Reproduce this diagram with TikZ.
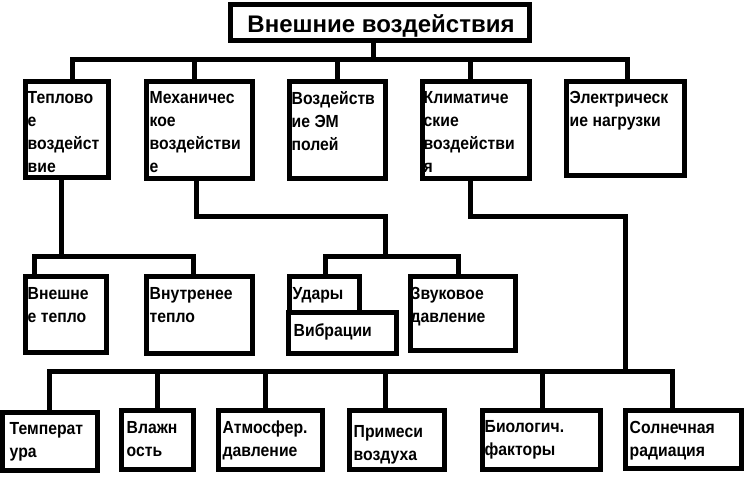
\documentclass[tikz,border=0pt]{standalone}
\usepackage{fontspec}
\setmainfont{Liberation Sans}
\newfontfamily\boxfont{Liberation Sans}[FakeStretch=0.9]
\usetikzlibrary{positioning}

\tikzset{
  box/.style={draw, line width=5pt, anchor=north west, inner sep=0pt, outer sep=0pt},
  boxtext/.style={align=left, inner sep=0pt, font=\boxfont\bfseries\fontsize{17.5}{23}\selectfont},
  wire/.style={line width=5pt, line cap=rect}
}

\begin{document}
\begin{tikzpicture}[x=1pt, y=-1pt]
\useasboundingbox (0,0) rectangle (750,478);

%*** Title ***
\node[box, minimum width=299pt, minimum height=36pt] (title) at (230.5,4.5) {};
\node[anchor=base, inner sep=0pt, font=\bfseries\fontsize{24}{28}\selectfont] (title-t) at (381,33) {Внешние воздействия};

%*** First row ***
\node[box, minimum width=83pt, minimum height=96pt] (tep) at (25.5,81.5) {};
\node[box, minimum width=106pt, minimum height=97pt] (mech) at (146.5,81.5) {};
\node[box, minimum width=96pt, minimum height=97pt] (em) at (289.5,81.5) {};
\node[box, minimum width=107pt, minimum height=97pt] (klim) at (422.5,81.5) {};
\node[box, minimum width=118pt, minimum height=94pt] (elec) at (566.5,81.5) {};

\node[boxtext, below right=10pt and 2pt of tep.north west] (tep-t) {Теплово\\е\\воздейст\\вие};
\node[boxtext, below right=10pt and 3pt of mech.north west] (mech-t) {Механичес\\кое\\воздействи\\е};
\node[boxtext, below right=10pt and 2pt of em.north west] (em-t) {Воздейств\\ие ЭМ\\полей};
\node[boxtext, below right=10pt and 1pt of klim.north west] (klim-t) {Климатиче\\ские\\воздействи\\я};
\node[boxtext, below right=10pt and 3pt of elec.north west] (elec-t) {Электрическ\\ие нагрузки};

%*** Second row ***
\node[box, minimum width=81pt, minimum height=76pt] (vnesh) at (25.5,276.5) {};
\node[box, minimum width=106pt, minimum height=77pt] (vnutr) at (146.5,276.5) {};
\node[box, minimum width=70pt, minimum height=36.5pt] (udar) at (289.5,276.5) {};
\node[box, minimum width=108pt, minimum height=40.5pt] (vibr) at (288.5,313) {};
\node[box, minimum width=105pt, minimum height=74pt] (zvuk) at (410.5,276.5) {};

\node[boxtext, below right=10.8pt and 2pt of vnesh.north west] (vnesh-t) {Внешне\\е тепло};
\node[boxtext, below right=10.8pt and 3pt of vnutr.north west] (vnutr-t) {Внутренее\\тепло};
\node[boxtext, below right=10.8pt and 3pt of udar.north west] (udar-t) {Удары};
\node[boxtext, below right=10.8pt and 5pt of vibr.north west] (vibr-t) {Вибрации};
\node[boxtext, below right=10.8pt and 0pt of zvuk.north west] (zvuk-t) {Звуковое\\давление};

%*** Third row ***
\node[box, minimum width=95pt, minimum height=58pt] (temp) at (2.5,412.5) {};
\node[box, minimum width=72pt, minimum height=59pt] (vlazh) at (121.5,410.5) {};
\node[box, minimum width=104pt, minimum height=59pt] (atm) at (218.5,410.5) {};
\node[box, minimum width=95pt, minimum height=59pt] (prim) at (349.5,410.5) {};
\node[box, minimum width=118pt, minimum height=59pt] (bio) at (482.5,410.5) {};
\node[box, minimum width=116pt, minimum height=58pt] (soln) at (625.5,410.5) {};

\node[boxtext, below right=10pt and 7pt of temp.north west] (temp-t) {Температ\\ура};
\node[boxtext, below right=10.3pt and 5pt of vlazh.north west] (vlazh-t) {Влажн\\ость};
\node[boxtext, below right=10.3pt and 4pt of atm.north west] (atm-t) {Атмосфер.\\давление};
\node[boxtext, below right=14.3pt and 4pt of prim.north west] (prim-t) {Примеси\\воздуха};
\node[boxtext, below right=9.8pt and 2pt of bio.north west] (bio-t) {Биологич.\\факторы};
\node[boxtext, below right=10.3pt and 4pt of soln.north west] (soln-t) {Солнечная\\радиация};

%Top bar
\coordinate (top-bar-c) at (373,60);
\coordinate (top-bar-w) at (72,60);
\coordinate (top-bar-e) at (627,60);
\draw[wire] (top-bar-c |- title.south) -- (top-bar-c);
\draw[wire] (top-bar-w) -- (top-bar-e);
\foreach \x/\n in {72/tep,194/mech,337/em,470/klim,627/elec}
  {\coordinate (j) at (\x,60);
   \draw[wire] (j) -- (j |- \n.north);}

%Thermal branch
\coordinate (tep-bar-c) at (61,257);
\coordinate (tep-bar-w) at (34,257);
\coordinate (tep-bar-e) at (193,257);
\draw[wire] (tep-bar-c |- tep.south) -- (tep-bar-c);
\draw[wire] (tep-bar-w) -- (tep-bar-e);
\draw[wire] (tep-bar-w) -- (tep-bar-w |- vnesh.north);
\draw[wire] (tep-bar-e) -- (tep-bar-e |- vnutr.north);

%Mechanical branch
\coordinate (mech-bend1) at (196,217);
\coordinate (mech-bend2) at (385,217);
\coordinate (mech-bar-c) at (385,257);
\coordinate (mech-bar-w) at (325,257);
\coordinate (mech-bar-e) at (458,257);
\draw[wire] (mech-bend1 |- mech.south) -- (mech-bend1) -- (mech-bend2) -- (mech-bar-c);
\draw[wire] (mech-bar-w) -- (mech-bar-e);
\draw[wire] (mech-bar-w) -- (mech-bar-w |- udar.north);
\draw[wire] (mech-bar-e) -- (mech-bar-e |- zvuk.north);

%Climatic branch
\coordinate (klim-bend1) at (470,217);
\coordinate (klim-bend2) at (625,217);
\coordinate (klim-bar-c) at (625,372);
\draw[wire] (klim-bend1 |- klim.south) -- (klim-bend1) -- (klim-bend2) -- (klim-bar-c);
\draw[wire] (49,372) -- (672,372);
\foreach \x/\n in {49/temp,157/vlazh,265/atm,385/prim,542/bio,672/soln}
  {\coordinate (j) at (\x,372);
   \draw[wire] (j) -- (j |- \n.north);}
\end{tikzpicture}
\end{document}
